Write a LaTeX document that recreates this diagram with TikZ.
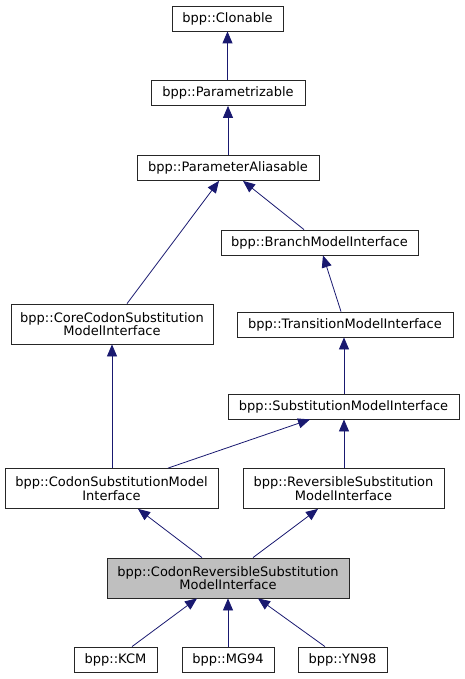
\documentclass[tikz,border=0pt]{standalone}
\usepackage{fontspec}
\setmainfont{DejaVu Sans}
\usetikzlibrary{arrows.meta}
\definecolor{edgeblue}{HTML}{191970}
\definecolor{boxgray}{HTML}{BFBFBF}
\begin{document}
\begin{tikzpicture}[x=1pt,y=-1pt,
  cls/.style={draw=black!85, line width=0.8pt, fill=white, inner sep=0pt, align=center, font=\fontsize{13}{13.5}\selectfont},
  inh/.style={draw=edgeblue, line width=0.8pt, -{Triangle[length=12pt,width=10pt]}, shorten >=0pt}]
\useasboundingbox (0,0) rectangle (465,679);
\node[cls, minimum width=111pt, minimum height=25pt] (clon) at (227.5,18.5) {bpp::Clonable};
\node[cls, minimum width=154pt, minimum height=25pt] (param) at (228,93) {bpp::Parametrizable};
\node[cls, minimum width=182pt, minimum height=25pt] (alias) at (228,168) {bpp::ParameterAliasable};
\node[cls, minimum width=197pt, minimum height=25pt] (branch) at (319.5,242.5) {bpp::BranchModelInterface};
\node[cls, minimum width=202pt, minimum height=40pt] (core) at (112,324) {bpp::CoreCodonSubstitution\\ModelInterface};
\node[cls, minimum width=216pt, minimum height=25pt] (trans) at (345,324.5) {bpp::TransitionModelInterface};
\node[cls, minimum width=231pt, minimum height=25pt] (subst) at (343.5,406.5) {bpp::SubstitutionModelInterface};
\node[cls, minimum width=213pt, minimum height=40pt] (codon) at (111.5,488.5) {bpp::CodonSubstitutionModel\\Interface};
\node[cls, minimum width=201pt, minimum height=40pt] (rev) at (343.5,488.5) {bpp::ReversibleSubstitution\\ModelInterface};
\node[cls, fill=boxgray, minimum width=242pt, minimum height=40pt] (crev) at (228,578) {bpp::CodonReversibleSubstitution\\ModelInterface};
\node[cls, minimum width=83pt, minimum height=25pt] (kcm) at (115.5,659.5) {bpp::KCM};
\node[cls, minimum width=92pt, minimum height=25pt] (mg) at (228,659.5) {bpp::MG94};
\node[cls, minimum width=89pt, minimum height=25pt] (yn) at (342.5,659.5) {bpp::YN98};

\draw[inh] ([xshift=-0.5pt]param.north) -- (clon.south);
\draw[inh] (alias.north) -- (param.south);
\draw[inh] ([xshift=15pt]core.north) -- ([xshift=-9pt]alias.south);
\draw[inh] ([xshift=-15.5pt]branch.north) -- ([xshift=15pt]alias.south);
\draw[inh] ([xshift=-4pt]trans.north) -- ([xshift=3.5pt]branch.south);
\draw[inh] ([xshift=0.5pt]subst.north) -- ([xshift=-1pt]trans.south);
\draw[inh] ([xshift=0.5pt]codon.north) -- (core.south);
\draw[inh] ([xshift=56.5pt]codon.north) -- ([xshift=-33.5pt]subst.south);
\draw[inh] ([xshift=0.5pt]rev.north) -- ([xshift=0.5pt]subst.south);
\draw[inh] ([xshift=-26pt]crev.north) -- ([xshift=26.5pt]codon.south);
\draw[inh] ([xshift=25pt]crev.north) -- ([xshift=-25.5pt]rev.south);
\draw[inh] ([xshift=16.5pt]kcm.north) -- ([xshift=-31pt]crev.south);
\draw[inh] (mg.north) -- (crev.south);
\draw[inh] ([xshift=-17.5pt]yn.north) -- ([xshift=30pt]crev.south);
\end{tikzpicture}
\end{document}
